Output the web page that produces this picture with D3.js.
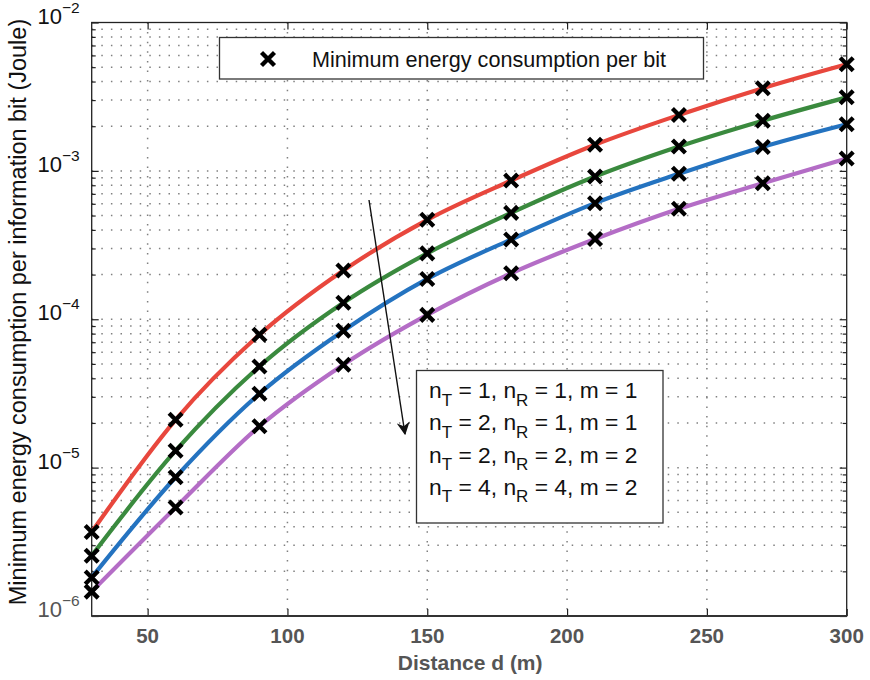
<!DOCTYPE html>
<html>
<head>
<meta charset="utf-8">
<script src="https://cdn.jsdelivr.net/npm/d3@7/dist/d3.min.js"></script>
<style>
  html, body { margin: 0; padding: 0; background: #fff; }
  svg { display: block; font-family: "Liberation Sans", Arial, Helvetica, sans-serif; }
</style>
</head>
<body>
<svg id="chart" width="870" height="680"></svg>
<script>
// ---------------- data ----------------
const distances = [30, 60, 90, 120, 150, 180, 210, 240, 270, 300];
const energy_nT1_nR1_m1 = [3.68e-6, 2.10e-5, 7.87e-5, 2.13e-4, 4.68e-4, 8.60e-4, 1.50e-3, 2.38e-3, 3.61e-3, 5.23e-3];
const energy_nT2_nR1_m1 = [2.55e-6, 1.30e-5, 4.81e-5, 1.29e-4, 2.78e-4, 5.21e-4, 9.16e-4, 1.46e-3, 2.18e-3, 3.13e-3];
const energy_nT2_nR2_m2 = [1.82e-6, 8.61e-6, 3.15e-5, 8.37e-5, 1.87e-4, 3.45e-4, 6.06e-4, 9.55e-4, 1.45e-3, 2.06e-3];
const energy_nT4_nR4_m2 = [1.46e-6, 5.38e-6, 1.90e-5, 4.94e-5, 1.07e-4, 2.04e-4, 3.47e-4, 5.55e-4, 8.26e-4, 1.21e-3];
const seriesLabels = [
  ["1", "1", "1"],
  ["2", "1", "1"],
  ["2", "2", "2"],
  ["4", "4", "2"]
];
const seriesColors = ["#e8473d", "#3a8a3e", "#2473c0", "#b46dc6"];
const xTickValues = [50, 100, 150, 200, 250, 300];
const yDecades = [1e-6, 1e-5, 1e-4, 1e-3, 1e-2];
const yDecadeExponents = ["\u22126", "\u22125", "\u22124", "\u22123", "\u22122"];
const xLabel = "Distance d (m)";
const yLabel = "Minimum energy consumption per information bit (Joule)";
const markerLegendLabel = "Minimum energy consumption per bit";

const allSeries = [energy_nT1_nR1_m1, energy_nT2_nR1_m1, energy_nT2_nR2_m2, energy_nT4_nR4_m2];

// ---------------- layout ----------------
const L = 91.7, R = 846.7, T = 22.5, B = 616;
const svg = d3.select("#chart");

const x = d3.scaleLinear().domain([30, 300]).range([L, R]);
const y = d3.scaleLog().domain([1e-6, 1e-2]).range([B, T]);

// grid
const gridColor = "#808080";
const yAllTicks = y.ticks().filter(v => v > 1e-6 * 1.0001 && v < 1e-2 * 0.9999);
svg.append("g").selectAll("line").data(yAllTicks).join("line")
  .attr("x1", L).attr("x2", R)
  .attr("y1", d => y(d)).attr("y2", d => y(d))
  .attr("stroke", gridColor).attr("stroke-width", 1.5)
  .attr("stroke-dasharray", "1.5,8.1");
svg.append("g").selectAll("line").data(xTickValues.filter(v => v < 300)).join("line")
  .attr("x1", d => x(d)).attr("x2", d => x(d))
  .attr("y1", T).attr("y2", B)
  .attr("stroke", gridColor).attr("stroke-width", 1.5)
  .attr("stroke-dasharray", "1.5,8.1");

// axes (ticks inward, box)
function styleAxis(g) {
  g.select(".domain").remove();
  g.selectAll(".tick line").attr("stroke", "#222").attr("stroke-width", 1.2);
  g.selectAll(".tick text").remove();
}
const yMinor = y.ticks().filter(v => !yDecades.some(d => Math.abs(d - v) / d < 1e-6));
svg.append("g").attr("transform", `translate(${L},0)`).call(d3.axisLeft(y).tickValues(yDecades).tickSize(-7)).call(styleAxis);
svg.append("g").attr("transform", `translate(${L},0)`).call(d3.axisLeft(y).tickValues(yMinor).tickSize(-4)).call(styleAxis);
svg.append("g").attr("transform", `translate(${R},0)`).call(d3.axisRight(y).tickValues(yDecades).tickSize(-7)).call(styleAxis);
svg.append("g").attr("transform", `translate(${R},0)`).call(d3.axisRight(y).tickValues(yMinor).tickSize(-4)).call(styleAxis);
svg.append("g").attr("transform", `translate(0,${B})`).call(d3.axisBottom(x).tickValues(xTickValues).tickSize(-7)).call(styleAxis);
svg.append("g").attr("transform", `translate(0,${T})`).call(d3.axisTop(x).tickValues(xTickValues).tickSize(-7)).call(styleAxis);

// frame
svg.append("rect").attr("x", L).attr("y", T).attr("width", R - L).attr("height", B - T)
  .attr("fill", "none").attr("stroke", "#222").attr("stroke-width", 1.3);
svg.append("line").attr("x1", L).attr("x2", R).attr("y1", B).attr("y2", B)
  .attr("stroke", "#333").attr("stroke-width", 2.2);

// y tick labels 10^n
const yl = svg.append("g");
yDecades.forEach((v, i) => {
  const t = yl.append("text").attr("x", L - 12).attr("y", y(v) + 1)
    .attr("text-anchor", "end").attr("fill", i === 0 ? "#555" : "#111").style("font-size", "22px");
  t.append("tspan").text("10");
  t.append("tspan").attr("dy", -11).style("font-size", "15.5px").text(yDecadeExponents[i]);
});

// x tick labels
svg.append("g").selectAll("text").data(xTickValues).join("text")
  .attr("x", d => x(d)).attr("y", 643)
  .attr("text-anchor", "middle").attr("fill", "#555").style("font-size", "20.5px").style("font-weight", "bold")
  .text(d => d);

// axis titles
svg.append("text").attr("x", (L + R) / 2 + 1).attr("y", 670)
  .attr("text-anchor", "middle").attr("fill", "#555").style("font-size", "21px").style("font-weight", "bold")
  .text(xLabel);
svg.append("text").attr("transform", `translate(26,312) rotate(-90)`)
  .attr("text-anchor", "middle").attr("fill", "#111").style("font-size", "23.5px")
  .text(yLabel);

// lines
const line = d3.line().x((d, i) => x(distances[i])).y(d => y(d)).curve(d3.curveMonotoneX);
svg.append("g").selectAll("path").data(allSeries).join("path")
  .attr("d", d => line(d))
  .attr("fill", "none").attr("stroke", (d, i) => seriesColors[i]).attr("stroke-width", 4.2)
  .attr("stroke-linejoin", "round");

// markers
const cross = "M-6.5,-6.5L6.5,6.5M6.5,-6.5L-6.5,6.5";
const mg = svg.append("g");
allSeries.forEach(s => {
  mg.selectAll(null).data(s).join("path")
    .attr("transform", (d, i) => `translate(${x(distances[i])},${y(d)})`)
    .attr("d", cross).attr("stroke", "#000").attr("stroke-width", 4.3).attr("fill", "none");
});

// legend 1 (marker)
svg.append("rect").attr("x", 219.5).attr("y", 37.5).attr("width", 484).attr("height", 41.5)
  .attr("fill", "#fff").attr("stroke", "#333").attr("stroke-width", 1.3);
svg.append("path").attr("transform", "translate(268,59)").attr("d", cross)
  .attr("stroke", "#000").attr("stroke-width", 4.3).attr("fill", "none");
svg.append("text").attr("x", 312).attr("y", 67).attr("fill", "#111").style("font-size", "21.6px")
  .text(markerLegendLabel);

// arrow
svg.append("defs").append("marker").attr("id", "ah")
  .attr("viewBox", "0 0 10 10").attr("refX", 9).attr("refY", 5)
  .attr("markerWidth", 13).attr("markerHeight", 13).attr("markerUnits", "userSpaceOnUse")
  .attr("orient", "auto")
  .append("path").attr("d", "M0,0L10,5L0,10L3,5Z").attr("fill", "#111");
svg.append("line").attr("x1", 369).attr("y1", 200).attr("x2", 405).attr("y2", 434)
  .attr("stroke", "#111").attr("stroke-width", 1.4).attr("marker-end", "url(#ah)");

// legend 2 (series)
svg.append("rect").attr("x", 416.5).attr("y", 370.5).attr("width", 246.5).attr("height", 152.5)
  .attr("fill", "#fff").attr("stroke", "#333").attr("stroke-width", 1.3);
seriesLabels.forEach((lab, i) => {
  const t = svg.append("text").attr("x", 429).attr("y", 398 + i * 32.3)
    .attr("fill", "#111").style("font-size", "22.8px");
  t.append("tspan").text("n");
  t.append("tspan").attr("dy", 7.5).style("font-size", "17px").text("T");
  t.append("tspan").attr("dy", -7.5).text(` = ${lab[0]}, n`);
  t.append("tspan").attr("dy", 7.5).style("font-size", "17px").text("R");
  t.append("tspan").attr("dy", -7.5).text(` = ${lab[1]}, m = ${lab[2]}`);
});
</script>
</body>
</html>
